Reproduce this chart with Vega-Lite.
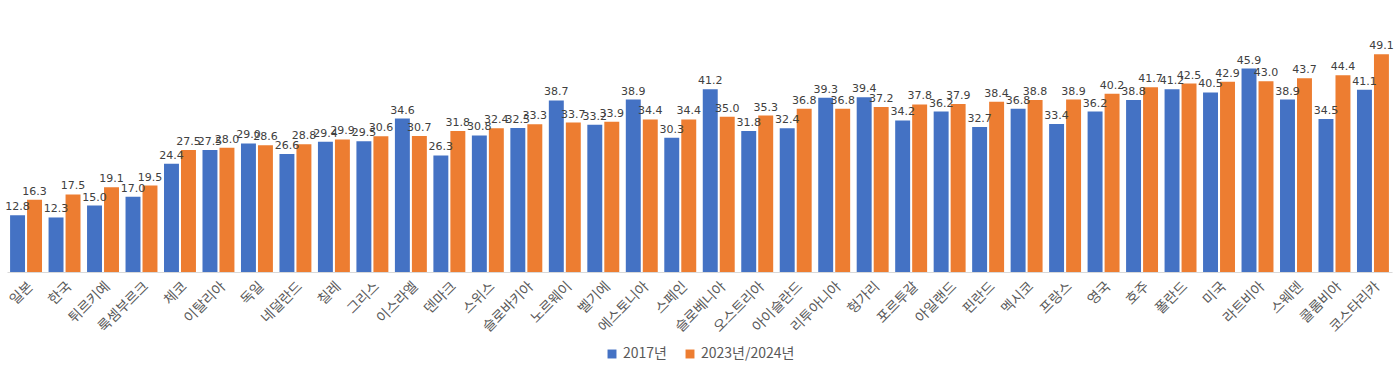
{
  "$schema": "https://vega.github.io/schema/vega-lite/v6.json",
  "width": 1385,
  "height": 266,
  "padding": {"top": 6, "left": 5, "right": 10, "bottom": 2},
  "background": "white",
  "data": {"values": [
    {"c":"일본","y":"2017년","v":12.8},{"c":"일본","y":"2023년/2024년","v":16.3},
    {"c":"한국","y":"2017년","v":12.3},{"c":"한국","y":"2023년/2024년","v":17.5},
    {"c":"튀르키예","y":"2017년","v":15.0},{"c":"튀르키예","y":"2023년/2024년","v":19.1},
    {"c":"룩셈부르크","y":"2017년","v":17.0},{"c":"룩셈부르크","y":"2023년/2024년","v":19.5},
    {"c":"체코","y":"2017년","v":24.4},{"c":"체코","y":"2023년/2024년","v":27.5},
    {"c":"이탈리아","y":"2017년","v":27.5},{"c":"이탈리아","y":"2023년/2024년","v":28.0},
    {"c":"독일","y":"2017년","v":29.0},{"c":"독일","y":"2023년/2024년","v":28.6},
    {"c":"네덜란드","y":"2017년","v":26.6},{"c":"네덜란드","y":"2023년/2024년","v":28.8},
    {"c":"칠레","y":"2017년","v":29.4},{"c":"칠레","y":"2023년/2024년","v":29.9},
    {"c":"그리스","y":"2017년","v":29.5},{"c":"그리스","y":"2023년/2024년","v":30.6},
    {"c":"이스라엘","y":"2017년","v":34.6},{"c":"이스라엘","y":"2023년/2024년","v":30.7},
    {"c":"덴마크","y":"2017년","v":26.3},{"c":"덴마크","y":"2023년/2024년","v":31.8},
    {"c":"스위스","y":"2017년","v":30.8},{"c":"스위스","y":"2023년/2024년","v":32.4},
    {"c":"슬로바키아","y":"2017년","v":32.5},{"c":"슬로바키아","y":"2023년/2024년","v":33.3},
    {"c":"노르웨이","y":"2017년","v":38.7},{"c":"노르웨이","y":"2023년/2024년","v":33.7},
    {"c":"벨기에","y":"2017년","v":33.2},{"c":"벨기에","y":"2023년/2024년","v":33.9},
    {"c":"에스토니아","y":"2017년","v":38.9},{"c":"에스토니아","y":"2023년/2024년","v":34.4},
    {"c":"스페인","y":"2017년","v":30.3},{"c":"스페인","y":"2023년/2024년","v":34.4},
    {"c":"슬로베니아","y":"2017년","v":41.2},{"c":"슬로베니아","y":"2023년/2024년","v":35.0},
    {"c":"오스트리아","y":"2017년","v":31.8},{"c":"오스트리아","y":"2023년/2024년","v":35.3},
    {"c":"아이슬란드","y":"2017년","v":32.4},{"c":"아이슬란드","y":"2023년/2024년","v":36.8},
    {"c":"리투아니아","y":"2017년","v":39.3},{"c":"리투아니아","y":"2023년/2024년","v":36.8},
    {"c":"헝가리","y":"2017년","v":39.4},{"c":"헝가리","y":"2023년/2024년","v":37.2},
    {"c":"포르투갈","y":"2017년","v":34.2},{"c":"포르투갈","y":"2023년/2024년","v":37.8},
    {"c":"아일랜드","y":"2017년","v":36.2},{"c":"아일랜드","y":"2023년/2024년","v":37.9},
    {"c":"핀란드","y":"2017년","v":32.7},{"c":"핀란드","y":"2023년/2024년","v":38.4},
    {"c":"멕시코","y":"2017년","v":36.8},{"c":"멕시코","y":"2023년/2024년","v":38.8},
    {"c":"프랑스","y":"2017년","v":33.4},{"c":"프랑스","y":"2023년/2024년","v":38.9},
    {"c":"영국","y":"2017년","v":36.2},{"c":"영국","y":"2023년/2024년","v":40.2},
    {"c":"호주","y":"2017년","v":38.8},{"c":"호주","y":"2023년/2024년","v":41.7},
    {"c":"폴란드","y":"2017년","v":41.2},{"c":"폴란드","y":"2023년/2024년","v":42.5},
    {"c":"미국","y":"2017년","v":40.5},{"c":"미국","y":"2023년/2024년","v":42.9},
    {"c":"라트비아","y":"2017년","v":45.9},{"c":"라트비아","y":"2023년/2024년","v":43.0},
    {"c":"스웨덴","y":"2017년","v":38.9},{"c":"스웨덴","y":"2023년/2024년","v":43.7},
    {"c":"콜롬비아","y":"2017년","v":34.5},{"c":"콜롬비아","y":"2023년/2024년","v":44.4},
    {"c":"코스타리카","y":"2017년","v":41.1},{"c":"코스타리카","y":"2023년/2024년","v":49.1}
  ]},
  "encoding": {
    "x": {"field": "c", "type": "nominal", "sort": null, "title": null,
      "scale": {"paddingInner": 0.17, "paddingOuter": 0.08},
      "axis": {"labelAngle": -45, "labelAlign": "right", "labelBaseline": "top", "labelFont": "Noto Sans CJK KR", "labelFontSize": 14, "labelColor": "#595959", "ticks": false, "domainColor": "#d9d9d9", "labelPadding": 7}},
    "xOffset": {"field": "y", "type": "nominal", "sort": null, "scale": {"paddingInner": 0.12}},
    "y": {"field": "v", "type": "quantitative", "scale": {"domain": [0, 60]}, "axis": null}
  },
  "layer": [
    {"mark": {"type": "bar"},
     "encoding": {"color": {"field": "y", "type": "nominal", "sort": null, "title": null,
       "scale": {"range": ["#4472C4", "#ED7D31"]},
       "legend": {"orient": "bottom", "direction": "horizontal", "symbolType": "square", "symbolSize": 80, "labelFont": "Noto Sans CJK KR", "labelFontSize": 14, "labelColor": "#595959", "columnPadding": 16, "offset": 12}}}},
    {"mark": {"type": "text", "dy": -8, "font": "DejaVu Sans", "fontSize": 11, "color": "#404040"},
     "encoding": {"text": {"field": "v", "type": "quantitative", "format": ".1f"}}}
  ],
  "config": {"view": {"stroke": null}, "legend": {"layout": {"bottom": {"anchor": "middle"}}}}
}
